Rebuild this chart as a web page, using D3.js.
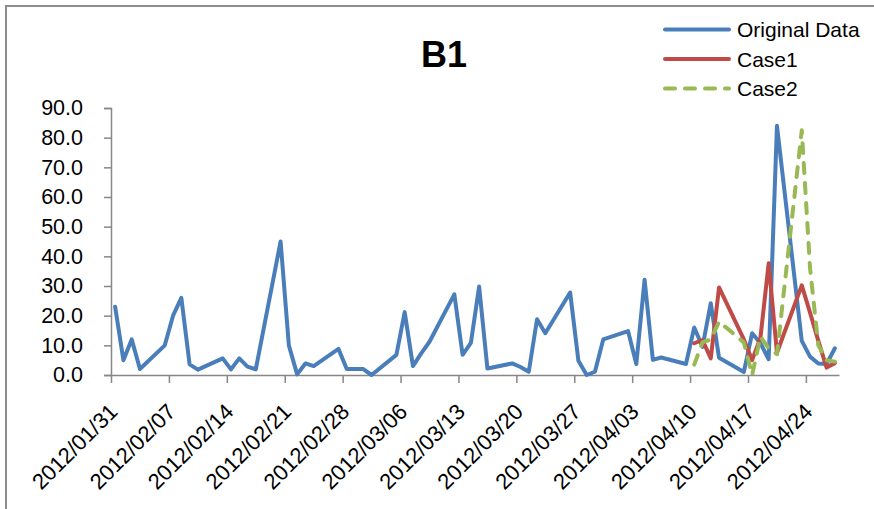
<!DOCTYPE html>
<html>
<head>
<meta charset="utf-8">
<script src="https://cdn.jsdelivr.net/npm/d3@7"></script>
<style>
  html, body { margin: 0; padding: 0; background: #fff; }
  svg { display: block; }
  text { font-family: "Liberation Sans", Arial, sans-serif; fill: #000; }
</style>
</head>
<body>
<svg id="chart" width="874" height="509"></svg>
<script>
// Daily observations (weekdays only)
const dates = [
  "2012/01/31","2012/02/01","2012/02/02","2012/02/03","2012/02/06","2012/02/07","2012/02/08","2012/02/09","2012/02/10",
  "2012/02/13","2012/02/14","2012/02/15","2012/02/16","2012/02/17","2012/02/20","2012/02/21","2012/02/22","2012/02/23",
  "2012/02/24","2012/02/27","2012/02/28","2012/02/29","2012/03/01","2012/03/02","2012/03/05","2012/03/06","2012/03/07",
  "2012/03/08","2012/03/09","2012/03/12","2012/03/13","2012/03/14","2012/03/15","2012/03/16","2012/03/19","2012/03/20",
  "2012/03/21","2012/03/22","2012/03/23","2012/03/26","2012/03/27","2012/03/28","2012/03/29","2012/03/30","2012/04/02",
  "2012/04/03","2012/04/04","2012/04/05","2012/04/06","2012/04/09","2012/04/10","2012/04/11","2012/04/12","2012/04/13",
  "2012/04/16","2012/04/17","2012/04/18","2012/04/19","2012/04/20","2012/04/23","2012/04/24","2012/04/25","2012/04/26",
  "2012/04/27"
];
const originalData = [
  23.0, 5.0, 12.0, 2.0, 10.0, 20.0, 26.0, 3.6, 1.8,
  5.6, 1.9, 5.6, 2.8, 1.9, 45.0, 10.0, 0.2, 3.9,
  3.0, 8.8, 2.0, 2.0, 2.0, 0.0, 6.8, 21.2, 3.0,
  7.3, 11.2, 27.2, 6.8, 10.8, 29.8, 2.2, 3.9, 2.7,
  1.1, 18.8, 14.1, 27.8, 4.8, 0.0, 1.1, 12.0, 14.8,
  3.7, 32.1, 5.1, 5.9, 3.7, 16.0, 9.5, 24.2, 5.8,
  1.0, 14.1, 10.7, 5.3, 84.0, 11.5, 6.2, 3.9, 3.7,
  9.0
];

// Model runs over the final weeks
const caseDates = [
  "2012/04/10","2012/04/11","2012/04/12","2012/04/13","2012/04/16","2012/04/17","2012/04/18",
  "2012/04/19","2012/04/20","2012/04/23","2012/04/24","2012/04/25","2012/04/26","2012/04/27"
];
const case1 = [10.7, 11.8, 5.6, 29.5, 12.0, 5.0, 12.5, 37.7, 7.5, 30.2, 21.0, 11.5, 2.5, 4.0];
const case2 = [3.5, 11.0, 12.0, 18.0, 11.0, 0.0, 12.9, 9.0, 7.0, 82.5, 36.0, 10.0, 5.0, 4.5];

const seriesNames = ["Original Data", "Case1", "Case2"];
const tickLabels = ["2012/01/31","2012/02/07","2012/02/14","2012/02/21","2012/02/28","2012/03/06","2012/03/13",
                    "2012/03/20","2012/03/27","2012/04/03","2012/04/10","2012/04/17","2012/04/24"];
const yTicks = [0, 10, 20, 30, 40, 50, 60, 70, 80, 90];
const axisStart = "2012/01/31", axisEnd = "2012/04/28";
const chartTitle = "B1";

const parse = d3.utcParse("%Y/%m/%d");
const svg = d3.select("#chart");

// outer chart frame
svg.append("rect")
  .attr("x", 6).attr("y", 6).attr("width", 900).attr("height", 540)
  .attr("fill", "#fff").attr("stroke", "#8c8c8c").attr("stroke-width", 2);

const plot = { left: 111, right: 839, top: 108, bottom: 375 };

const x = d3.scaleUtc()
  .domain([parse(axisStart), parse(axisEnd)])
  .range([plot.left, plot.right]);
const y = d3.scaleLinear().domain([0, 90]).range([plot.bottom, plot.top]);

// each value sits in the middle of its day
const xMid = s => x(d3.utcHour.offset(parse(s), 12));

const axisColor = "#878787";

// y axis
const yAxis = svg.append("g")
  .attr("transform", `translate(${plot.left},0)`)
  .call(d3.axisLeft(y).tickValues(yTicks).tickFormat(d3.format(".1f")).tickSize(7).tickPadding(21));
yAxis.select(".domain").attr("stroke", axisColor).attr("stroke-width", 1.5);
yAxis.selectAll(".tick line").attr("stroke", axisColor).attr("stroke-width", 1.5);
yAxis.selectAll(".tick text")
  .attr("font-size", 21.5).attr("fill", "#000")
  .style("font-family", "'Liberation Sans', Arial, sans-serif");

// x axis
const xAxis = svg.append("g")
  .attr("transform", `translate(0,${plot.bottom})`)
  .call(d3.axisBottom(x).tickValues(tickLabels.map(parse)).tickSize(8).tickSizeOuter(0).tickFormat(""));
xAxis.select(".domain").attr("stroke", axisColor).attr("stroke-width", 1.5);
xAxis.selectAll(".tick line").attr("stroke", axisColor).attr("stroke-width", 1.5);

svg.append("g").selectAll("text")
  .data(tickLabels)
  .join("text")
  .attr("transform", d => `translate(${x(parse(d)) + 8},${plot.bottom + 38}) rotate(-45)`)
  .attr("text-anchor", "end")
  .attr("font-size", 22)
  .text(d => d);

// series lines
const colors = ["#4a7ebb", "#be4b48", "#98b954"];
const line = d3.line().x(d => xMid(d[0])).y(d => y(d[1]));

const series = [
  { name: seriesNames[0], pts: d3.zip(dates, originalData), color: colors[0], dash: null },
  { name: seriesNames[1], pts: d3.zip(caseDates, case1), color: colors[1], dash: null },
  { name: seriesNames[2], pts: d3.zip(caseDates, case2), color: colors[2], dash: "10,10" }
];

svg.append("g").selectAll("path")
  .data(series)
  .join("path")
  .attr("d", d => line(d.pts))
  .attr("fill", "none")
  .attr("stroke", d => d.color)
  .attr("stroke-width", 4)
  .attr("stroke-linejoin", "round")
  .attr("stroke-linecap", "round")
  .attr("stroke-dasharray", d => d.dash);

// title
svg.append("text")
  .attr("x", 444).attr("y", 67)
  .attr("text-anchor", "middle")
  .attr("font-size", 36).attr("font-weight", "bold")
  .text(chartTitle);

// legend
const legend = svg.append("g").selectAll("g")
  .data(series)
  .join("g")
  .attr("transform", (d, i) => `translate(665,${29.5 + i * 29.5})`);
legend.append("line")
  .attr("x1", 0).attr("x2", 64).attr("y1", 0).attr("y2", 0)
  .attr("stroke", d => d.color).attr("stroke-width", 4)
  .attr("stroke-linecap", "round")
  .attr("stroke-dasharray", d => d.dash);
legend.append("text")
  .attr("x", 72).attr("y", 0).attr("dy", "0.36em")
  .attr("font-size", 21)
  .text(d => d.name);
</script>
</body>
</html>
